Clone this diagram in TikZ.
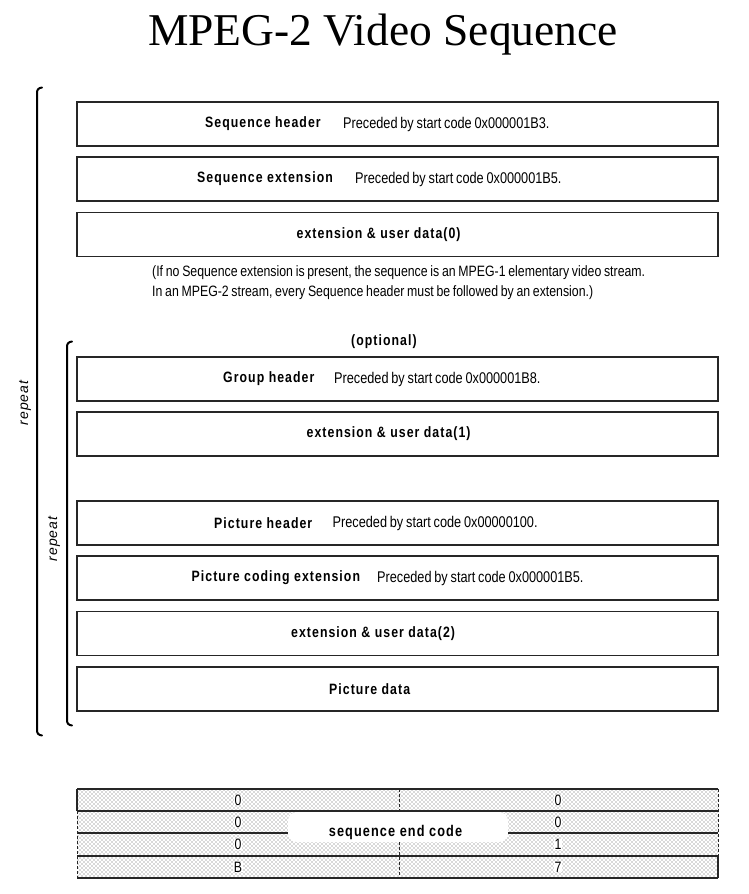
\documentclass[tikz,border=0pt]{standalone}
\usepackage{fontspec}
\setmainfont{Liberation Serif}
\newfontfamily\hdfont{Liberation Sans}[FakeStretch=0.82,LetterSpace=7]
\newfontfamily\rgfont{Liberation Sans}[FakeStretch=0.82,WordSpace=0.7]
\newfontfamily\notefont{Liberation Sans}[FakeStretch=0.82,WordSpace=0.8]
\newfontfamily\repfont{Liberation Sans}[LetterSpace=8]
\usetikzlibrary{patterns}
\pgfdeclarepatternformonly{sdots}{\pgfqpoint{-1pt}{-1pt}}{\pgfqpoint{5pt}{5pt}}{\pgfqpoint{4pt}{4pt}}{%
  \pgfpathcircle{\pgfqpoint{0pt}{0pt}}{0.7pt}%
  \pgfpathcircle{\pgfqpoint{2pt}{2pt}}{0.7pt}%
  \pgfusepath{fill}}
\begin{document}
\begin{tikzpicture}[x=1pt,y=-1pt,
  box/.style={draw=black!85,line width=1.1pt,minimum width=641pt,minimum height=44pt,inner sep=0pt},
  bt/.style={anchor=west,inner sep=0pt,font=\hdfont\bfseries\fontsize{15}{17}\selectfont},
  rt/.style={anchor=west,inner sep=0pt,font=\rgfont\fontsize{15.5}{17}\selectfont},
  nt/.style={anchor=west,inner sep=0pt,font=\notefont\fontsize{15}{17}\selectfont},
  brace/.style={line width=2pt,line cap=round},
  rep/.style={inner sep=0pt,rotate=90,font=\repfont\itshape\fontsize{14}{16}\selectfont},
  dig/.style={inner sep=0pt,font=\rgfont\fontsize{15}{17}\selectfont},
  tl/.style={line width=1.1pt,black!85},
  td/.style={line width=1pt,black!85,dash pattern=on 3pt off 2pt}]
\useasboundingbox (0,0) rectangle (749,894);
% title
\node[anchor=base,inner sep=0pt,font=\fontsize{45.5}{50}\selectfont] (title) at (383,45) {MPEG-2 Video Sequence};
% boxes
\node[box] (sh) at (397.5,124) {};
\node[bt] (sht) at (205,124) {Sequence header};
\node[rt] (shr) at (343,124) {Preceded by start code 0x000001B3.};
\node[box] (se) at (397.5,179) {};
\node[bt] (set) at (197,179) {Sequence extension};
\node[rt] (ser) at (355,179) {Preceded by start code 0x000001B5.};
\node[box] (ud0) at (397.5,234.5) {};
\node[bt] (ud0t) at (296.5,234.5) {extension \& user data(0)};
\node[nt] (n1) at (152,273) {(If no Sequence extension is present, the sequence is an MPEG-1 elementary video stream.};
\node[nt] (n2) at (152,293) {In an MPEG-2 stream, every Sequence header must be followed by an extension.)};
\node[bt] (opt) at (351,342) {(optional)};
\node[box] (gh) at (397.5,379) {};
\node[bt] (ght) at (223,379) {Group header};
\node[rt] (ghr) at (334,379) {Preceded by start code 0x000001B8.};
\node[box] (ud1) at (397.5,434) {};
\node[bt] (ud1t) at (306.5,434) {extension \& user data(1)};
\node[box] (ph) at (397.5,523) {};
\node[bt] (pht) at (214,523) {Picture header};
\node[rt] (phr) at (332.5,523) {Preceded by start code 0x00000100.};
\node[box] (pce) at (397.5,578) {};
\node[bt] (pcet) at (191.5,578) {Picture coding extension};
\node[rt] (pcer) at (377,578) {Preceded by start code 0x000001B5.};
\node[box] (ud2) at (397.5,633.5) {};
\node[bt] (ud2t) at (291,633.5) {extension \& user data(2)};
\node[box] (pd) at (397.5,689) {};
\node[bt] (pdt) at (329,689) {Picture data};
% braces
\draw[brace] (42,87.5) .. controls (38.5,88) and (37,89.5) .. (37,93) -- (37,730) .. controls (37,733.5) and (38.5,735) .. (42,735.5);
\draw[brace] (72,341.5) .. controls (68.5,342) and (67,343.5) .. (67,347) -- (67,720) .. controls (67,723.5) and (68.5,725) .. (72,725.5);
\node[rep] (rep1) at (25,403) {repeat};
\node[rep] (rep2) at (54,539) {repeat};
% sequence end code table
\fill[pattern=sdots,pattern color=black!65] (77,789) rectangle (718,878);
\fill[white,rounded corners=9pt] (288,812) rectangle (508,842);
\draw[tl,line width=1.4pt] (77,789) -- (718,789);
\draw[tl] (77,811) -- (718,811);
\draw[tl] (77,833) -- (288,833);
\draw[tl] (508,833) -- (718,833);
\draw[tl] (77,856) -- (718,856);
\draw[tl] (77,878) -- (718,878);
\draw[tl,line width=1.4pt] (77,789) -- (77,811);
\draw[td] (77,811) -- (77,878);
\draw[td] (718,789) -- (718,856);
\draw[tl] (718,856) -- (718,878);
\draw[td] (399,789) -- (399,811);
\draw[td] (399,842) -- (399,878);
\node[fill=white,inner sep=1pt,font=\hdfont\bfseries\fontsize{15.5}{17}\selectfont] (sec) at (395.5,832) {sequence end code};
\node[dig,fill=white,inner xsep=1pt] (a1) at (238,800) {0};
\node[dig,fill=white,inner xsep=1pt] (a2) at (238,822) {0};
\node[dig,fill=white,inner xsep=1pt] (a3) at (238,844.5) {0};
\node[dig,fill=white,inner xsep=1pt] (a4) at (238,867) {B};
\node[dig,fill=white,inner xsep=1pt] (b1) at (558,800) {0};
\node[dig,fill=white,inner xsep=1pt] (b2) at (558,822) {0};
\node[dig,fill=white,inner xsep=1pt] (b3) at (558,844.5) {1};
\node[dig,fill=white,inner xsep=1pt] (b4) at (558,867) {7};
\end{tikzpicture}
\end{document}
